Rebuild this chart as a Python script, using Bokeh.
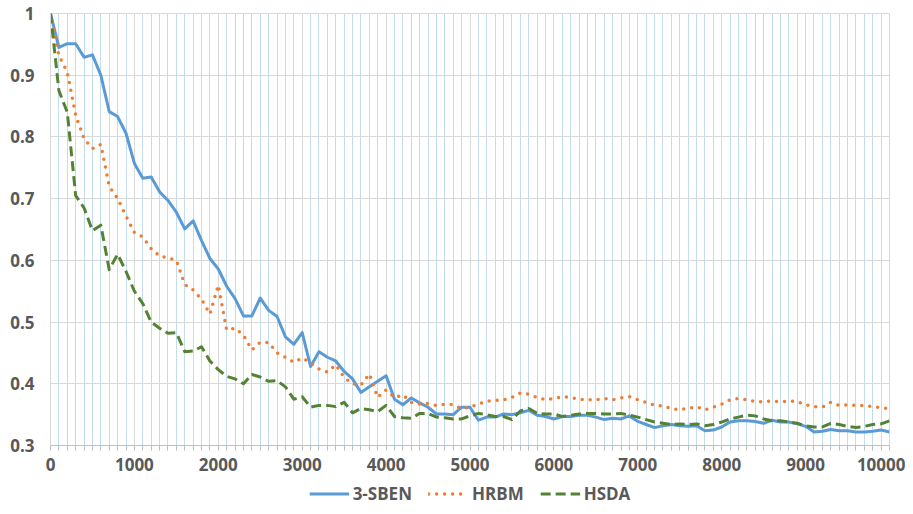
from bokeh.plotting import figure
from bokeh.layouts import column
from bokeh.models import (Range1d, FixedTicker, CustomJSTickFormatter, Legend,
                          LegendItem, ColumnDataSource)
from bokeh.embed import file_html
from bokeh.resources import INLINE

iterations = list(range(0, 10001, 100))

sben = [1.0, 0.945, 0.951, 0.951, 0.929, 0.933, 0.900, 0.841, 0.833, 0.806,
        0.757, 0.733, 0.735, 0.711, 0.697, 0.678, 0.651, 0.664, 0.632, 0.603,
        0.586, 0.558, 0.538, 0.510, 0.510, 0.539, 0.519, 0.509, 0.476, 0.464,
        0.483, 0.428, 0.452, 0.443, 0.437, 0.420, 0.408, 0.386, 0.395, 0.404,
        0.413, 0.375, 0.366, 0.377, 0.369, 0.362, 0.351, 0.351, 0.350, 0.362,
        0.362, 0.341, 0.346, 0.346, 0.351, 0.350, 0.353, 0.357, 0.349, 0.347,
        0.343, 0.347, 0.347, 0.349, 0.349, 0.346, 0.342, 0.344, 0.343, 0.348,
        0.339, 0.334, 0.329, 0.332, 0.334, 0.332, 0.331, 0.332, 0.324, 0.325,
        0.330, 0.338, 0.340, 0.340, 0.339, 0.336, 0.341, 0.338, 0.338, 0.335,
        0.331, 0.322, 0.323, 0.326, 0.324, 0.324, 0.322, 0.322, 0.323, 0.325,
        0.322]

hrbm = [1.0, 0.932, 0.905, 0.835, 0.797, 0.781, 0.788, 0.720, 0.700, 0.672,
        0.645, 0.638, 0.619, 0.607, 0.604, 0.600, 0.561, 0.552, 0.537, 0.513,
        0.560, 0.487, 0.490, 0.479, 0.455, 0.467, 0.467, 0.450, 0.443, 0.435,
        0.442, 0.434, 0.424, 0.419, 0.431, 0.410, 0.400, 0.398, 0.416, 0.378,
        0.390, 0.378, 0.382, 0.370, 0.367, 0.368, 0.365, 0.367, 0.366, 0.360,
        0.362, 0.367, 0.372, 0.373, 0.374, 0.378, 0.385, 0.383, 0.378, 0.374,
        0.376, 0.379, 0.378, 0.375, 0.374, 0.374, 0.376, 0.374, 0.377, 0.379,
        0.374, 0.370, 0.365, 0.364, 0.360, 0.358, 0.360, 0.363, 0.358, 0.362,
        0.367, 0.374, 0.376, 0.374, 0.371, 0.371, 0.372, 0.371, 0.372, 0.371,
        0.366, 0.363, 0.362, 0.370, 0.365, 0.366, 0.365, 0.365, 0.363, 0.361,
        0.360]

hsda = [1.0, 0.875, 0.840, 0.705, 0.685, 0.648, 0.657, 0.585, 0.610, 0.582,
        0.550, 0.530, 0.500, 0.490, 0.482, 0.483, 0.452, 0.453, 0.460, 0.437,
        0.423, 0.412, 0.408, 0.400, 0.415, 0.411, 0.404, 0.405, 0.395, 0.375,
        0.379, 0.362, 0.365, 0.365, 0.363, 0.370, 0.353, 0.360, 0.358, 0.355,
        0.365, 0.347, 0.345, 0.344, 0.352, 0.352, 0.346, 0.345, 0.343, 0.343,
        0.348, 0.352, 0.350, 0.347, 0.347, 0.342, 0.356, 0.360, 0.352, 0.351,
        0.351, 0.347, 0.349, 0.351, 0.352, 0.352, 0.351, 0.351, 0.352, 0.349,
        0.346, 0.342, 0.338, 0.336, 0.334, 0.335, 0.334, 0.335, 0.332, 0.334,
        0.338, 0.343, 0.346, 0.349, 0.348, 0.343, 0.340, 0.340, 0.338, 0.336,
        0.332, 0.330, 0.330, 0.336, 0.334, 0.331, 0.329, 0.331, 0.334, 0.335,
        0.340]

series_names = ["3-SBEN", "HRBM", "HSDA"]
x_ticks = [0, 1000, 2000, 3000, 4000, 5000, 6000, 7000, 8000, 9000, 10000]
x_minor_ticks = iterations
y_ticks = [0.3, 0.4, 0.5, 0.6, 0.7, 0.8, 0.9, 1.0]

FONT = "Open Sans"
LABEL_COLOR = "#595959"
COLORS = ["#5B9BD5", "#ED7D31", "#548235"]
WIDTHS = [3, 3.5, 3]
DASHES = ["solid", "0 8", "10 5"]
CAPS = ["butt", "round", "butt"]

src = ColumnDataSource(data=dict(x=iterations, sben=sben, hrbm=hrbm, hsda=hsda))

p = figure(frame_width=839, frame_height=432,
           min_border_left=50, min_border_right=16, min_border_top=13,
           min_border_bottom=36,
           x_range=Range1d(0, 10000), y_range=Range1d(0.3, 1.0),
           output_backend="svg", toolbar_location=None)
p.outline_line_color = "#d9d9d9"
p.background_fill_color = "white"
p.border_fill_color = "white"

# grids
p.xgrid.ticker = FixedTicker(ticks=x_ticks, minor_ticks=x_minor_ticks)
p.xgrid.grid_line_color = "#d9d9d9"
p.xgrid.grid_line_width = 1
p.xgrid.minor_grid_line_color = "#c5dcf0"
p.xgrid.minor_grid_line_width = 1
p.ygrid.ticker = FixedTicker(ticks=y_ticks)
p.ygrid.grid_line_color = "#d9d9d9"
p.ygrid.grid_line_width = 1

# x axis
xa = p.xaxis[0]
xa.ticker = FixedTicker(ticks=x_ticks, minor_ticks=x_minor_ticks)
xa.axis_line_color = "#bfbfbf"
xa.major_tick_line_color = "#bfbfbf"
xa.minor_tick_line_color = "#bfbfbf"
xa.major_tick_in = 0
xa.major_tick_out = 5
xa.minor_tick_in = 0
xa.minor_tick_out = 5
xa.major_label_standoff = 7
xa.major_label_text_font = FONT
xa.major_label_text_font_style = "bold"
xa.major_label_text_font_size = "17px"
xa.major_label_text_color = LABEL_COLOR

# y axis
ya = p.yaxis[0]
ya.ticker = FixedTicker(ticks=y_ticks)
ya.formatter = CustomJSTickFormatter(code="return String(Math.round(tick*10)/10);")
ya.axis_line_color = "#d9d9d9"
ya.major_tick_line_color = None
ya.minor_tick_line_color = None
ya.major_tick_out = 0
ya.major_tick_in = 0
ya.major_label_standoff = 16
ya.major_label_text_font = FONT
ya.major_label_text_font_style = "bold"
ya.major_label_text_font_size = "17px"
ya.major_label_text_color = LABEL_COLOR

for col, c, w, d, cap in zip(["sben", "hrbm", "hsda"], COLORS, WIDTHS, DASHES, CAPS):
    p.line("x", col, source=src, line_color=c, line_width=w, line_dash=d,
           line_cap=cap, line_join="round")

# legend strip below the chart (same horizontal frame as the chart)
lg = figure(frame_width=839, frame_height=24, x_range=Range1d(0, 1),
            y_range=Range1d(0, 1),
            min_border_left=50, min_border_right=16, min_border_top=0,
            min_border_bottom=0, output_backend="svg", toolbar_location=None)
lg.axis.visible = False
lg.grid.visible = False
lg.outline_line_color = None
lg.border_fill_color = "white"
lg.background_fill_color = "white"
nan = float("nan")
items = []
for name, c, w, d, cap in zip(series_names, COLORS, WIDTHS, DASHES, CAPS):
    s = ColumnDataSource(data=dict(x=[nan], y=[nan]))
    r = lg.line("x", "y", source=s, line_color=c, line_width=w, line_dash=d,
                line_cap=cap)
    items.append(LegendItem(label=name, renderers=[r]))

legend = Legend(items=items, orientation="horizontal", location="center",
                glyph_width=40, glyph_height=16, label_standoff=4, spacing=16,
                padding=0, margin=0, border_line_color=None,
                background_fill_alpha=0,
                label_text_font=FONT, label_text_font_style="bold",
                label_text_font_size="17px", label_text_color=LABEL_COLOR)
lg.add_layout(legend, "center")

layout = column(p, lg, spacing=0)
open("out.html", "w").write(file_html(layout, INLINE))
